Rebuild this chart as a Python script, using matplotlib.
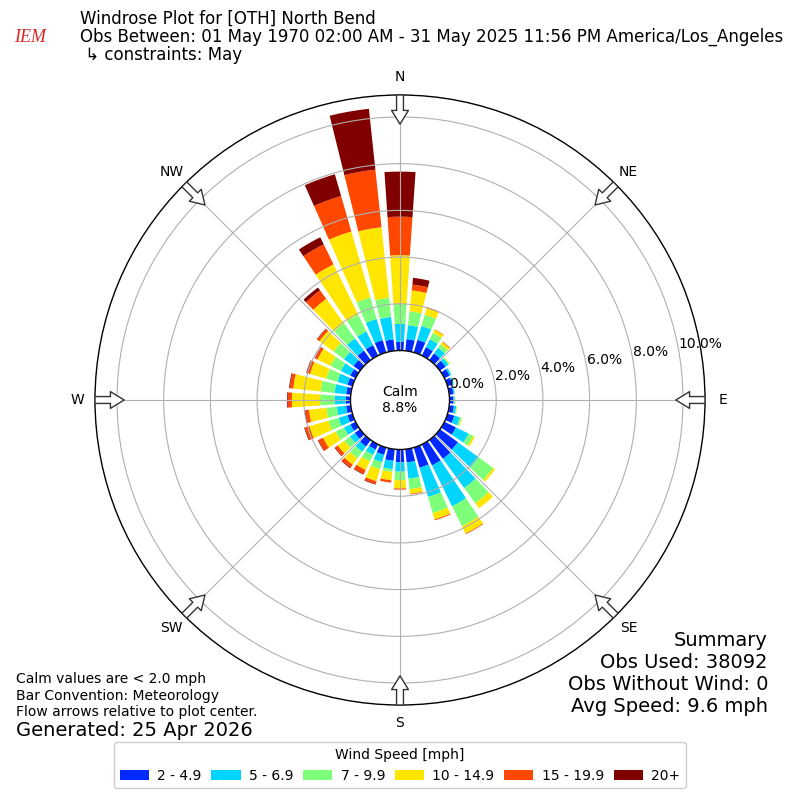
import numpy as np
import matplotlib
matplotlib.use("Agg")
import matplotlib.pyplot as plt
from matplotlib.patches import Patch

# ---------------- data ----------------
directions = list(range(0, 360, 10))
speed_labels = ["2 - 4.9", "5 - 6.9", "7 - 9.9", "10 - 14.9", "15 - 19.9", "20+"]

# percent frequency per direction for each speed bin
bin_2_5 = [0.38, 0.50, 0.56, 0.40, 0.35, 0.30, 0.25, 0.22, 0.18, 0.17, 0.20, 0.30,
           0.55, 0.95, 1.00, 1.00, 0.90, 0.57, 0.55, 0.50, 0.33, 0.25, 0.35, 0.28,
           0.25, 0.22, 0.20, 0.20, 0.20, 0.22, 0.25, 0.35, 0.50, 0.50, 0.55, 0.49]
bin_5_7 = [0.76, 0.60, 0.62, 0.38, 0.30, 0.15, 0.08, 0.06, 0.05, 0.05, 0.10, 0.25,
           0.60, 1.10, 1.55, 1.95, 1.30, 0.70, 0.40, 0.36, 0.32, 0.25, 0.27, 0.25,
           0.30, 0.40, 0.40, 0.48, 0.50, 0.45, 0.45, 0.50, 0.65, 0.65, 0.94, 0.97]
bin_7_10 = [0.86, 0.60, 0.50, 0.30, 0.18, 0.05, 0.02, 0.02, 0.02, 0.02, 0.03, 0.07,
            0.22, 0.77, 0.80, 0.95, 0.72, 0.45, 0.36, 0.12, 0.31, 0.31, 0.35, 0.30,
            0.40, 0.45, 0.45, 0.62, 0.60, 0.50, 0.50, 0.55, 0.80, 0.80, 0.96, 0.82]
bin_10_15 = [2.08, 0.90, 0.30, 0.15, 0.12, 0.03, 0.00, 0.00, 0.00, 0.01, 0.02, 0.03,
             0.08, 0.10, 0.27, 0.35, 0.28, 0.20, 0.36, 0.36, 0.54, 0.41, 0.34, 0.35,
             0.60, 0.85, 0.75, 1.21, 1.18, 0.72, 0.62, 0.75, 1.29, 2.40, 2.94, 3.04]
bin_15_20 = [1.65, 0.25, 0.04, 0.02, 0.03, 0.00, 0.00, 0.00, 0.00, 0.00, 0.00, 0.00,
             0.00, 0.00, 0.00, 0.03, 0.04, 0.03, 0.05, 0.10, 0.12, 0.19, 0.16, 0.14,
             0.22, 0.20, 0.16, 0.18, 0.15, 0.14, 0.11, 0.12, 0.45, 0.95, 1.58, 2.48]
bin_20p = [1.93, 0.29, 0.00, 0.00, 0.00, 0.00, 0.00, 0.00, 0.00, 0.00, 0.00, 0.00,
           0.00, 0.00, 0.00, 0.00, 0.00, 0.00, 0.00, 0.00, 0.03, 0.03, 0.03, 0.03,
           0.03, 0.03, 0.03, 0.03, 0.03, 0.03, 0.02, 0.02, 0.15, 0.34, 0.97, 2.62]

ring_values = [0, 2, 4, 6, 8, 10]
compass_angles = [0, 45, 90, 135, 180, 225, 270, 315]
compass_labels = ["N", "NE", "E", "SE", "S", "SW", "W", "NW"]

calm_pct = 8.8
obs_used = 38092
obs_without_wind = 0
avg_speed = 9.6

# ---------------- figure ----------------
fig = plt.figure(figsize=(8, 8), dpi=100)
ax = fig.add_axes([95 / 800, 95 / 800, 610 / 800, 610 / 800], projection="polar")
ax.set_theta_zero_location("N")
ax.set_theta_direction(-1)

series = [bin_2_5, bin_5_7, bin_7_10, bin_10_15, bin_15_20, bin_20p]
colors = plt.cm.jet(np.linspace(0, 1, 7)[1:])
theta = np.deg2rad(directions)
bottom = np.zeros(len(directions))
width = np.deg2rad(7.8)
for vals, col in zip(series, colors):
    v = np.array(vals)
    ax.bar(theta, v, width=width, bottom=bottom, color=col, edgecolor="none",
           zorder=1, align="center")
    bottom = bottom + v

rmax = bottom.max() * 1.05
ax.set_ylim(0, rmax)
ax.set_rorigin(-2.12)

ax.set_rgrids(ring_values, labels=[f"{r:.1f}%" for r in ring_values],
              angle=80, fontsize=10)
ax.set_thetagrids(compass_angles, labels=compass_labels, fontsize=10)
ax.tick_params(axis="x", pad=2.5)
ax.grid(True, color="#b0b0b0", lw=0.8)
for sp in ax.spines.values():
    sp.set_color("black")
    sp.set_linewidth(1.0)

ax.text(0.5, 0.5, f"Calm\n{calm_pct:.1f}%", transform=ax.transAxes,
        ha="center", va="center", fontsize=10, zorder=5)

# flow arrows pointing towards plot center
tip_r = rmax - 1.25
for ang in compass_angles:
    ax.annotate("", xy=(np.deg2rad(ang), tip_r), xytext=(np.deg2rad(ang), rmax),
                xycoords="data", textcoords="data", annotation_clip=False,
                arrowprops=dict(arrowstyle="simple,head_length=0.9,head_width=1.1,tail_width=0.45",
                                mutation_scale=11, fc="white", ec="#333333", lw=1,
                                shrinkA=0, shrinkB=0),
                zorder=6)

# ---------------- texts ----------------
fig.text(0.1, 0.976, "Windrose Plot for [OTH] North Bend", fontsize=12, va="center")
fig.text(0.1, 0.954, "Obs Between: 01 May 1970 02:00 AM - 31 May 2025 11:56 PM America/Los_Angeles",
         fontsize=12, va="center")
fig.text(0.1, 0.931, " \u21b3 constraints: May", fontsize=12, va="center")

fig.text(0.0375, 0.9525, "IEM", fontsize=13, color="#d62828", family="Liberation Serif",
         style="italic", ha="center", va="center")

fig.text(0.02, 0.151, "Calm values are < 2.0 mph", fontsize=10, va="center")
fig.text(0.02, 0.130, "Bar Convention: Meteorology", fontsize=10, va="center")
fig.text(0.02, 0.110, "Flow arrows relative to plot center.", fontsize=10, va="center")
fig.text(0.02, 0.0875, "Generated: 25 Apr 2026", fontsize=14, va="center")

fig.text(0.96, 0.200, "Summary", fontsize=14, ha="right", va="center")
fig.text(0.96, 0.1725, f"Obs Used: {obs_used}", fontsize=14, ha="right", va="center")
fig.text(0.96, 0.145, f"Obs Without Wind: {obs_without_wind}", fontsize=14, ha="right", va="center")
fig.text(0.96, 0.1175, f"Avg Speed: {avg_speed} mph", fontsize=14, ha="right", va="center")

handles = [Patch(facecolor=c, label=l) for c, l in zip(colors, speed_labels)]
fig.legend(handles=handles, loc="lower center", bbox_to_anchor=(0.5, 0.006), ncol=6,
           title="Wind Speed [mph]", fontsize=10, title_fontsize=10,
           handlelength=2.1, handleheight=0.7, handletextpad=0.6,
           columnspacing=0.7, framealpha=1)

fig.savefig("out.png", dpi=100)
